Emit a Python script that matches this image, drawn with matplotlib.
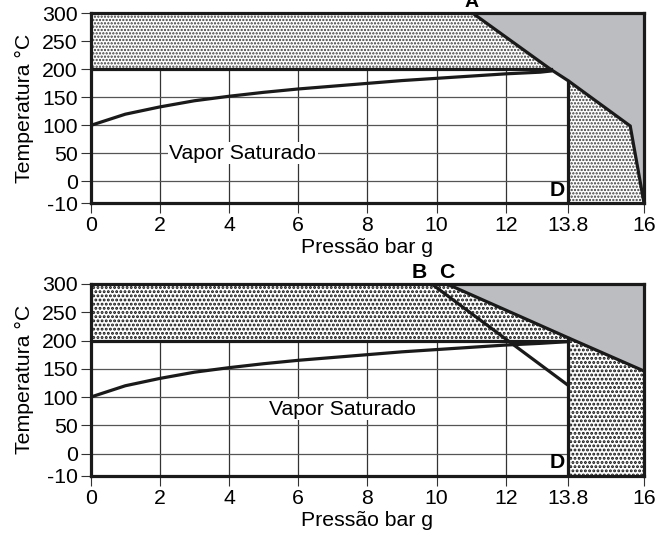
import numpy as np
import matplotlib.pyplot as plt
from matplotlib.patches import Polygon

plt.rcParams['font.family'] = ['Liberation Sans', 'DejaVu Sans']
plt.rcParams['font.size'] = 15.3

# curva de vapor saturado (bar g, °C)
sat_p = [0, 1, 2, 3, 4, 5, 6, 7, 8, 9, 10, 11, 12, 13, 13.8]
sat_t = [100, 120, 133, 144, 152, 159, 165, 170, 175, 180, 184, 188, 192, 195, 198]
# no grafico de cima a curva para na linha A
sat_top_p = [0, 1, 2, 3, 4, 5, 6, 7, 8, 9, 10, 11, 12, 13, 13.3]
sat_top_t = [100, 120, 133, 144, 152, 159, 165, 170, 175, 180, 184, 188, 192, 195, 197]

x_ticks = [0, 2, 4, 6, 8, 10, 12, 13.8, 16]
x_labels = ['0', '2', '4', '6', '8', '10', '12', '13.8', '16']
y_ticks = [-10, 0, 50, 100, 150, 200, 250, 300]
y_labels = ['-10', '0', '50', '100', '150', '200', '250', '300']

p_min, p_max = 0, 16
t_min, t_max = -10, 300
t_limit = 200
p_d = 13.8

# grafico de cima: linha A
a_p = [11.05, 13.3, 13.8, 15.6, 16]
a_t = [300, 200, 180, 99, -10]

# grafico de baixo: linhas B e C
b_p = [9.86, 13.8]
b_t = [300, 121]
c_p = [10.3, 13.8, 16]
c_t = [300, 205, 146]

DARK = '#1a1a1a'
GRAY = '#bcbdc0'
LW = 2.3


def fwd(v):
    v = np.asarray(v, dtype=float)
    return np.where(v < 0, v * 3.9, v)


def inv(u):
    u = np.asarray(u, dtype=float)
    return np.where(u < 0, u / 3.9, u)


def dotted(ax, xs, ys, hatch, color, hlw):
    plt.rcParams['hatch.linewidth'] = hlw
    poly = Polygon(list(zip(xs, ys)), closed=True, facecolor='white',
                   edgecolor=color, linewidth=0, hatch=hatch, zorder=1)
    if hasattr(poly, 'set_hatch_linewidth'):
        poly.set_hatch_linewidth(hlw)
    ax.add_patch(poly)


def setup(ax):
    ax.set_yscale('function', functions=(fwd, inv))
    ax.set_xlim(p_min, p_max)
    ax.set_ylim(t_min, t_max)
    ax.set_xticks(x_ticks)
    ax.set_xticklabels(x_labels)
    ax.set_yticks(y_ticks)
    ax.set_yticklabels(y_labels)
    ax.minorticks_off()
    ax.tick_params(length=7.5, width=0.8, color='#333333', pad=2)
    for s in ax.spines.values():
        s.set_linewidth(LW)
        s.set_color(DARK)
    ax.set_axisbelow(True)
    ax.xaxis.grid(True, color='#333333', lw=0.9)
    ax.yaxis.grid(True, color='#555555', lw=0.9)
    ax.set_xlabel('Pressão bar g', labelpad=2)
    ax.set_ylabel('Temperatura °C', labelpad=6)


fig = plt.figure(figsize=(6.69, 5.35), dpi=100)
ax1 = fig.add_axes([0.1356, 0.6200, 0.8271, 0.3551])
ax2 = fig.add_axes([0.1356, 0.1109, 0.8271, 0.3583])

# ---- grafico de cima ----
setup(ax1)
dotted(ax1, [p_min, p_min, a_p[0], a_p[1]], [t_limit, t_max, t_max, a_t[1]],
       '.....', '#3a3a3a', 1.1)
dotted(ax1, [p_d, p_d, a_p[3], a_p[4]], [t_min, a_t[2], a_t[3], a_t[4]],
       '.....', '#3a3a3a', 1.1)
ax1.add_patch(Polygon(list(zip(a_p + [p_max, p_max], a_t + [t_min, t_max])),
                      closed=True, facecolor=GRAY, edgecolor='none', zorder=1))
ax1.plot([p_min, a_p[1]], [t_limit, t_limit], color=DARK, lw=LW, zorder=2)
ax1.plot(a_p, a_t, color=DARK, lw=LW, zorder=2, solid_joinstyle='miter')
ax1.plot([p_d, p_d], [t_min, a_t[2]], color=DARK, lw=LW, zorder=2)
ax1.plot(sat_top_p, sat_top_t, color=DARK, lw=LW, zorder=2)
ax1.text(4.4, 50, 'Vapor Saturado', ha='center', va='center', zorder=3,
         bbox=dict(facecolor='white', edgecolor='none', pad=1))
ax1.annotate('A', xy=(a_p[0], 1), xycoords=('data', 'axes fraction'),
             xytext=(-1, 1.5), textcoords='offset points', ha='center',
             va='bottom', fontweight='bold', fontsize=14, annotation_clip=False)
ax1.annotate('D', xy=(p_d, t_min), xytext=(-2, 2.4), textcoords='offset points',
             ha='right', va='bottom', fontweight='bold')

# ---- grafico de baixo ----
setup(ax2)
dotted(ax2, [p_min, p_min, c_p[0], c_p[1], p_d], [t_limit, t_max, t_max, c_t[1], t_limit],
       '....', '#111111', 1.4)
dotted(ax2, [p_d, p_d, c_p[2], p_max], [t_min, c_t[1], c_t[2], t_min],
       '....', '#111111', 1.4)
ax2.add_patch(Polygon(list(zip(c_p[::2] + [p_max], c_t[::2] + [t_max])),
                      closed=True, facecolor=GRAY, edgecolor='none', zorder=1))
ax2.plot([p_min, p_d], [t_limit, t_limit], color=DARK, lw=LW, zorder=2)
ax2.plot(c_p, c_t, color=DARK, lw=LW, zorder=2)
ax2.plot(b_p, b_t, color=DARK, lw=LW, zorder=2)
ax2.plot([p_d, p_d], [t_min, c_t[1]], color=DARK, lw=LW, zorder=2)
ax2.plot(sat_p, sat_t, color=DARK, lw=LW, zorder=2)
ax2.text(7.28, 78, 'Vapor Saturado', ha='center', va='center', zorder=3,
         bbox=dict(facecolor='white', edgecolor='none', pad=1))
ax2.annotate('B', xy=(b_p[0], 1), xycoords=('data', 'axes fraction'),
             xytext=(-3.5, 1.5), textcoords='offset points', ha='right',
             va='bottom', fontweight='bold', annotation_clip=False)
ax2.annotate('C', xy=(c_p[0], 1), xycoords=('data', 'axes fraction'),
             xytext=(0, 1.5), textcoords='offset points', ha='center',
             va='bottom', fontweight='bold', annotation_clip=False)
ax2.annotate('D', xy=(p_d, t_min), xytext=(-2, 2.4), textcoords='offset points',
             ha='right', va='bottom', fontweight='bold')

fig.savefig('out.png', dpi=100)
